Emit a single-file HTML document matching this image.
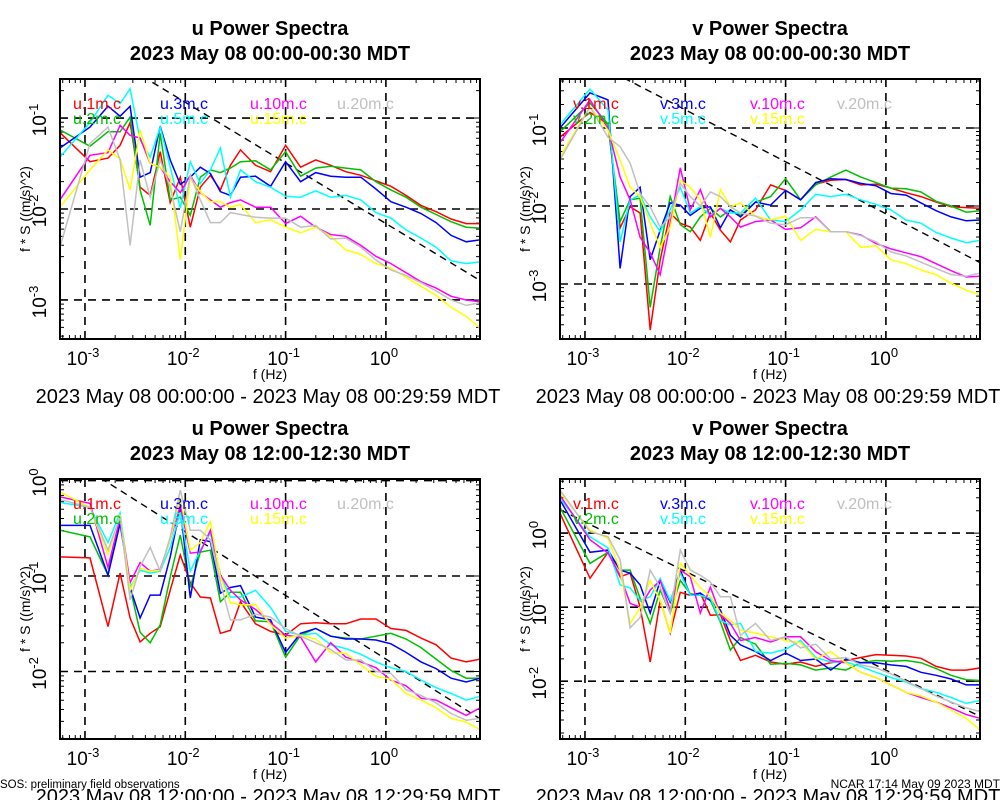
<!DOCTYPE html>
<html><head><meta charset="utf-8"><style>
html,body{margin:0;padding:0;background:#fff;}
svg{display:block;font-family:"Liberation Sans",sans-serif;}
</style></head><body>
<svg id="chart" width="1000" height="800" viewBox="0 0 1000 800" xmlns="http://www.w3.org/2000/svg">
<rect width="1000" height="800" fill="#fff"/>
<text x="0" y="788" font-size="11.5">SOS: preliminary field observations</text>
<text x="1000" y="788" font-size="12" text-anchor="end">NCAR 17:14 May 09 2023 MDT</text>
</svg>
<script>
// log10 frequency (Hz) of each spectral estimate
const freqLog = [-3.25,-2.95,-2.77,-2.65,-2.55,-2.45,-2.35,-2.25,-2.15,-2.05,-1.95,-1.85,-1.75,-1.65,-1.55,-1.45,-1.3,-1.15,-1.0,-0.85,-0.7,-0.55,-0.4,-0.25,-0.1,0.05,0.2,0.35,0.5,0.65,0.8,0.94];
const seriesColors = ["#ff0000","#00c000","#0000ff","#00ffff","#ff00ff","#ffff00","#c0c0c0"];
const heights = ["1m","2m","3m","5m","10m","15m","20m"];
const xTicks = [-3,-2,-1,0];
const refIntercepts = [-2.16,-2.1,-1.87,-1.85];

// Panel 1: u, 00:00-00:30 (log10 of f*S)
const u1_1 = [-1.16,-1.48,-1.44,-1.30,-1.05,-1.76,-1.85,-1.37,-1.93,-1.65,-2.20,-1.76,-1.63,-1.79,-1.52,-1.35,-1.52,-1.59,-1.30,-1.54,-1.46,-1.52,-1.59,-1.63,-1.69,-1.75,-1.85,-1.96,-2.03,-2.11,-2.16,-2.16];
const u1_2 = [-1.13,-1.31,-1.15,-1.15,-0.99,-1.79,-2.18,-1.17,-1.90,-1.87,-2.07,-1.65,-1.57,-1.60,-1.55,-1.48,-1.47,-1.57,-1.37,-1.64,-1.55,-1.53,-1.55,-1.57,-1.70,-1.79,-1.87,-1.98,-2.06,-2.14,-2.20,-2.21];
const u1_3 = [-1.33,-1.10,-0.87,-0.98,-0.87,-1.65,-1.60,-1.09,-1.46,-1.73,-1.65,-1.54,-1.61,-1.81,-1.85,-1.65,-1.64,-1.75,-1.48,-1.70,-1.60,-1.64,-1.65,-1.65,-1.78,-1.92,-1.98,-2.05,-2.15,-2.29,-2.36,-2.34];
const u1_5 = [-1.43,-1.05,-0.75,-0.84,-0.68,-1.24,-1.43,-1.10,-1.54,-1.99,-1.48,-1.72,-1.57,-1.33,-1.87,-1.57,-1.70,-1.76,-1.86,-1.87,-1.80,-1.87,-1.85,-1.90,-2.04,-2.10,-2.23,-2.32,-2.42,-2.57,-2.60,-2.58];
const u1_10 = [-1.90,-1.41,-1.38,-1.08,-1.19,-1.22,-1.50,-1.54,-1.70,-1.82,-1.63,-1.82,-1.90,-1.98,-1.93,-1.90,-1.98,-1.98,-2.16,-2.08,-2.20,-2.28,-2.30,-2.40,-2.52,-2.60,-2.70,-2.80,-2.87,-2.96,-3.00,-3.02];
const u1_15 = [-1.98,-1.57,-1.35,-1.45,-1.79,-1.13,-1.50,-1.54,-1.65,-2.56,-1.66,-1.81,-1.92,-1.92,-1.98,-1.95,-2.15,-2.12,-2.20,-2.26,-2.20,-2.30,-2.45,-2.50,-2.60,-2.65,-2.75,-2.85,-2.95,-3.08,-3.18,-3.31];
const u1_20 = [-2.42,-1.28,-1.10,-1.46,-2.40,-1.46,-1.87,-1.46,-1.76,-2.25,-1.63,-1.90,-2.15,-2.15,-2.04,-2.06,-2.09,-2.10,-2.10,-2.20,-2.18,-2.33,-2.32,-2.42,-2.56,-2.67,-2.73,-2.81,-2.90,-3.00,-3.06,-3.03];
// Panel 2: v, 00:00-00:30
const v1_1 = [-1.12,-0.80,-0.95,-2.28,-2.01,-2.09,-3.59,-2.69,-2.09,-2.22,-2.27,-2.44,-2.09,-2.31,-2.46,-2.18,-2.05,-1.73,-1.80,-1.92,-1.72,-1.67,-1.66,-1.73,-1.72,-1.77,-1.83,-1.88,-1.95,-2.01,-2.02,-2.03];
const v1_2 = [-1.05,-0.68,-0.95,-2.20,-1.92,-1.90,-3.30,-2.53,-1.88,-2.24,-2.33,-2.14,-2.03,-2.14,-2.05,-2.12,-1.95,-1.88,-1.65,-1.92,-1.73,-1.63,-1.54,-1.63,-1.70,-1.77,-1.78,-1.82,-1.94,-2.00,-2.08,-2.06];
const v1_3 = [-1.00,-0.55,-0.64,-2.80,-1.88,-1.76,-2.69,-2.31,-1.96,-1.99,-2.12,-2.03,-2.01,-2.28,-2.05,-2.14,-1.95,-1.99,-1.80,-1.92,-1.70,-1.65,-1.66,-1.71,-1.74,-1.84,-1.86,-1.96,-2.06,-2.14,-2.19,-2.18];
const v1_5 = [-0.96,-0.50,-0.77,-2.46,-1.92,-1.86,-2.14,-2.33,-2.05,-1.76,-2.09,-2.01,-2.12,-2.03,-2.09,-2.09,-1.90,-2.18,-2.20,-2.05,-1.85,-1.88,-1.85,-1.92,-1.98,-2.05,-2.18,-2.22,-2.34,-2.41,-2.47,-2.44];
const v1_10 = [-1.19,-0.64,-1.00,-1.63,-1.92,-2.40,-2.60,-2.88,-2.22,-1.51,-2.05,-1.79,-2.14,-2.03,-2.14,-2.27,-2.20,-2.18,-2.30,-2.28,-2.14,-2.33,-2.33,-2.37,-2.48,-2.55,-2.60,-2.65,-2.74,-2.83,-2.91,-2.90];
const v1_15 = [-1.37,-0.73,-1.03,-1.41,-1.76,-1.88,-2.22,-2.53,-2.27,-1.67,-1.76,-1.92,-2.40,-1.79,-2.01,-1.96,-2.13,-2.18,-2.13,-2.44,-2.30,-2.33,-2.33,-2.53,-2.51,-2.69,-2.74,-2.82,-2.88,-2.99,-3.08,-3.14];
const v1_20 = [-1.41,-0.73,-1.12,-1.24,-1.45,-1.84,-2.01,-2.27,-2.14,-1.71,-1.88,-2.00,-1.82,-1.88,-2.01,-2.09,-2.13,-2.22,-2.24,-2.15,-2.15,-2.33,-2.33,-2.38,-2.46,-2.59,-2.64,-2.72,-2.80,-2.88,-2.90,-2.86];
// Panel 3: u, 12:00-12:30
const u2_1 = [-0.80,-0.81,-1.53,-0.97,-1.44,-1.69,-1.60,-1.53,-1.15,-0.78,-1.07,-1.22,-1.23,-1.60,-1.57,-1.27,-1.50,-1.58,-1.62,-1.50,-1.49,-1.50,-1.50,-1.45,-1.45,-1.55,-1.57,-1.65,-1.72,-1.86,-1.90,-1.87];
const u2_2 = [-0.52,-0.59,-0.99,-0.38,-1.12,-1.59,-1.70,-1.51,-1.01,-0.57,-1.12,-0.75,-0.73,-1.27,-1.17,-1.17,-1.47,-1.48,-1.85,-1.62,-1.55,-1.63,-1.65,-1.66,-1.63,-1.60,-1.66,-1.75,-1.87,-1.99,-2.07,-2.07];
const u2_3 = [-0.47,-0.47,-0.99,-0.45,-1.12,-1.44,-1.20,-1.20,-0.80,-0.28,-1.23,-0.62,-0.64,-1.18,-1.12,-1.10,-1.43,-1.46,-1.80,-1.60,-1.55,-1.63,-1.66,-1.66,-1.67,-1.71,-1.80,-1.90,-1.97,-2.07,-2.11,-2.07];
const u2_5 = [-0.23,-0.28,-0.65,-0.34,-1.12,-0.94,-0.97,-0.95,-0.70,-0.33,-0.95,-0.73,-0.55,-0.99,-1.22,-1.22,-1.15,-1.33,-1.58,-1.62,-1.60,-1.72,-1.76,-1.82,-1.90,-1.96,-2.00,-2.09,-2.17,-2.23,-2.30,-2.26];
const u2_10 = [-0.17,-0.24,-0.91,-0.39,-1.07,-0.86,-0.95,-0.93,-0.62,-0.26,-0.76,-0.75,-0.52,-0.99,-1.15,-1.25,-1.35,-1.49,-1.62,-1.64,-1.90,-1.70,-1.85,-1.90,-1.96,-2.09,-2.15,-2.28,-2.30,-2.38,-2.46,-2.38];
const u2_15 = [-0.12,-0.28,-0.78,-0.36,-1.15,-0.92,-0.95,-0.94,-0.62,-0.18,-0.73,-0.65,-0.43,-1.01,-1.28,-1.30,-1.30,-1.51,-1.65,-1.62,-1.66,-1.80,-1.81,-1.93,-2.05,-2.08,-2.23,-2.30,-2.38,-2.49,-2.53,-2.61];
const u2_20 = [-0.20,-0.28,-0.73,-0.38,-1.25,-0.90,-0.70,-0.95,-0.59,-0.10,-0.52,-0.52,-0.62,-1.07,-1.46,-1.46,-1.40,-1.43,-1.55,-1.63,-1.70,-1.77,-1.88,-1.88,-2.00,-2.02,-2.19,-2.25,-2.33,-2.44,-2.51,-2.49];
// Panel 4: v, 12:00-12:30
const v2_1 = [0.27,-0.61,-0.26,-0.59,-0.54,-1.00,-1.74,-0.91,-1.35,-0.80,-0.84,-0.81,-1.11,-1.10,-1.45,-1.72,-1.65,-1.74,-1.77,-1.74,-1.80,-1.75,-1.72,-1.68,-1.64,-1.65,-1.66,-1.69,-1.80,-1.85,-1.85,-1.82];
const v2_2 = [0.35,-0.41,-0.26,-0.50,-0.50,-0.88,-1.22,-0.77,-1.08,-0.64,-0.82,-0.84,-0.91,-1.20,-1.58,-1.41,-1.50,-1.77,-1.76,-1.78,-1.85,-1.82,-1.85,-1.75,-1.72,-1.73,-1.72,-1.75,-1.83,-1.92,-1.98,-1.99];
const v2_3 = [0.45,-0.26,-0.23,-0.50,-0.54,-0.70,-1.08,-0.64,-0.93,-0.50,-0.84,-0.81,-0.91,-1.04,-1.38,-1.51,-1.60,-1.72,-1.62,-1.72,-1.70,-1.85,-1.70,-1.75,-1.75,-1.78,-1.80,-1.88,-1.92,-1.97,-2.05,-2.05];
const v2_5 = [0.47,-0.05,-0.20,-0.70,-0.74,-0.91,-0.86,-0.61,-0.91,-0.54,-0.84,-0.84,-0.88,-1.18,-1.24,-1.22,-1.60,-1.62,-1.57,-1.45,-1.68,-1.74,-1.74,-1.80,-1.88,-1.95,-2.01,-2.10,-2.15,-2.22,-2.30,-2.26];
const v2_10 = [0.51,-0.09,-0.27,-0.57,-0.95,-1.00,-0.77,-0.64,-1.04,-0.50,-0.59,-1.08,-0.73,-1.10,-1.22,-1.45,-1.41,-1.47,-1.40,-1.40,-1.60,-1.72,-1.75,-1.88,-1.95,-2.05,-2.15,-2.22,-2.28,-2.36,-2.45,-2.50];
const v2_15 = [0.55,0.04,-0.07,-0.50,-1.22,-1.01,-0.64,-0.91,-1.35,-0.41,-0.57,-0.74,-0.85,-1.08,-1.18,-1.31,-1.35,-1.40,-1.45,-1.48,-1.70,-1.60,-1.75,-1.88,-1.95,-2.05,-2.15,-2.20,-2.28,-2.39,-2.50,-2.66];
const v2_20 = [0.58,0.02,-0.05,-0.36,-1.28,-1.14,-0.50,-0.73,-1.08,-0.23,-0.50,-0.57,-0.66,-0.86,-0.86,-1.38,-1.22,-1.45,-1.40,-1.55,-1.50,-1.70,-1.68,-1.78,-1.82,-1.90,-2.00,-2.10,-2.20,-2.28,-2.36,-2.41];

const NS="http://www.w3.org/2000/svg";
const svg=document.getElementById('chart');
function el(tag,attrs,parent){const e=document.createElementNS(NS,tag);for(const k in attrs)e.setAttribute(k,attrs[k]);(parent||svg).appendChild(e);return e;}

const panels=[
 {comp:"u",title2:"2023 May 08 00:00-00:30 MDT",range:"2023 May 08 00:00:00 - 2023 May 08 00:29:59 MDT",x0:60,y0:79,yTop:-0.571,yBot:-3.429,yTicks:[-1,-2,-3],data:[u1_1,u1_2,u1_3,u1_5,u1_10,u1_15,u1_20],ref:refIntercepts[0]},
 {comp:"v",title2:"2023 May 08 00:00-00:30 MDT",range:"2023 May 08 00:00:00 - 2023 May 08 00:29:59 MDT",x0:560,y0:79,yTop:-0.372,yBot:-3.705,yTicks:[-1,-2,-3],data:[v1_1,v1_2,v1_3,v1_5,v1_10,v1_15,v1_20],ref:refIntercepts[1]},
 {comp:"u",title2:"2023 May 08 12:00-12:30 MDT",range:"2023 May 08 12:00:00 - 2023 May 08 12:29:59 MDT",x0:60,y0:479,yTop:0.016,yBot:-2.707,yTicks:[0,-1,-2],data:[u2_1,u2_2,u2_3,u2_5,u2_10,u2_15,u2_20],ref:refIntercepts[2]},
 {comp:"v",title2:"2023 May 08 12:00-12:30 MDT",range:"2023 May 08 12:00:00 - 2023 May 08 12:29:59 MDT",x0:560,y0:479,yTop:0.73,yBot:-2.78,yTicks:[0,-1,-2],data:[v2_1,v2_2,v2_3,v2_5,v2_10,v2_15,v2_20],ref:refIntercepts[3]}
];
const W=420,H=260,XMIN=-3.249,XMAX=0.938;

panels.forEach((p,pi)=>{
 const g=el('g',{});
 
 
 const sx=v=>p.x0+(v-XMIN)/(XMAX-XMIN)*W;
 const sy=v=>p.y0+(p.yTop-v)/(p.yTop-p.yBot)*H;
 const cx=p.x0+W/2;
 const t1=el('text',{x:cx,y:p.y0-44,'font-size':20,'font-weight':'bold','text-anchor':'middle'},g);t1.textContent=p.comp+' Power Spectra';
 
 const t2=el('text',{x:cx,y:p.y0-19,'font-size':20,'font-weight':'bold','text-anchor':'middle'},g);t2.textContent=p.title2;
 
 const cid='clip'+pi;
 const cp=el('clipPath',{id:cid},g);el('rect',{x:p.x0,y:p.y0,width:W,height:H},cp);
 xTicks.forEach(t=>{const l=el('line',{x1:sx(t),x2:sx(t),y1:p.y0,y2:p.y0+H,stroke:'#000','stroke-width':1.6,'stroke-dasharray':'8,6'},g);
   });
 p.yTicks.forEach(t=>{const l=el('line',{x1:p.x0,x2:p.x0+W,y1:sy(t),y2:sy(t),stroke:'#000','stroke-width':1.6,'stroke-dasharray':'8,6'},g);
   });
 let tk='';
 for(let d=-4;d<=1;d++)for(let m=1;m<10;m++){const v=d+Math.log10(m);if(v<XMIN||v>XMAX)continue;const x=sx(v),len=m==1?8:4;tk+=`M${x},${p.y0+H}v${-len}M${x},${p.y0}v${len}`;}
 for(let d=-4;d<=1;d++)for(let m=1;m<10;m++){const v=d+Math.log10(m);if(v<p.yBot||v>p.yTop)continue;const y=sy(v),len=m==1?8:4;tk+=`M${p.x0},${y}h${len}M${p.x0+W},${y}h${-len}`;}
 const ticks=el('path',{d:tk,stroke:'#000','stroke-width':1,fill:'none'},g);
 
 const rl=el('line',{x1:sx(XMIN),y1:sy(p.ref-2/3*XMIN),x2:sx(XMAX),y2:sy(p.ref-2/3*XMAX),stroke:'#000','stroke-width':1.4,'stroke-dasharray':'7,5','clip-path':`url(#${cid})`},g);
 
 p.data.forEach((arr,si)=>{
   const d=arr.map((v,i)=>(i?'L':'M')+sx(freqLog[i]).toFixed(1)+','+sy(v).toFixed(1)).join('');
   const s=el('path',{d:d,fill:'none',stroke:seriesColors[si],'stroke-width':1.5,'clip-path':`url(#${cid})`},g);
   
   
 });
 const lx=[p.x0+13,p.x0+13,p.x0+100,p.x0+100,p.x0+190,p.x0+190,p.x0+277];
 const ly=[p.y0+30,p.y0+45,p.y0+30,p.y0+45,p.y0+30,p.y0+45,p.y0+30];
 heights.forEach((h,si)=>{const t=el('text',{x:lx[si],y:ly[si],'font-size':16,fill:seriesColors[si]},g);t.textContent=p.comp+'.'+h+'.c';
   });
 const fr=el('rect',{x:p.x0,y:p.y0,width:W,height:H,fill:'none',stroke:'#000','stroke-width':2},g);
 
 xTicks.forEach(t=>{const tx=el('text',{x:sx(t)-2,y:p.y0+H+26,'font-size':19,'text-anchor':'middle'},g);
   tx.innerHTML='10<tspan dy="-8" font-size="13">'+t+'</tspan>';
   });
 p.yTicks.forEach(t=>{const y=sy(t);const tx=el('text',{x:0,y:0,'font-size':19,'text-anchor':'middle',transform:`translate(${p.x0-14},${y+2}) rotate(-90)`},g);
   tx.innerHTML='10<tspan dy="-8" font-size="13">'+t+'</tspan>';
   });
 const xl=el('text',{x:cx,y:p.y0+H+40,'font-size':14,'text-anchor':'middle'},g);xl.textContent='f (Hz)';
 
 const yl=el('text',{x:0,y:0,'font-size':14,'text-anchor':'middle',transform:`translate(${p.x0-30},${p.y0+H/2}) rotate(-90)`},g);yl.textContent='f * S ((m/s)^2)';
 
 const rt=el('text',{x:cx-2,y:p.y0+H+64,'font-size':20,'text-anchor':'middle'},g);rt.textContent=p.range;
 
});
</script>
</body></html>
